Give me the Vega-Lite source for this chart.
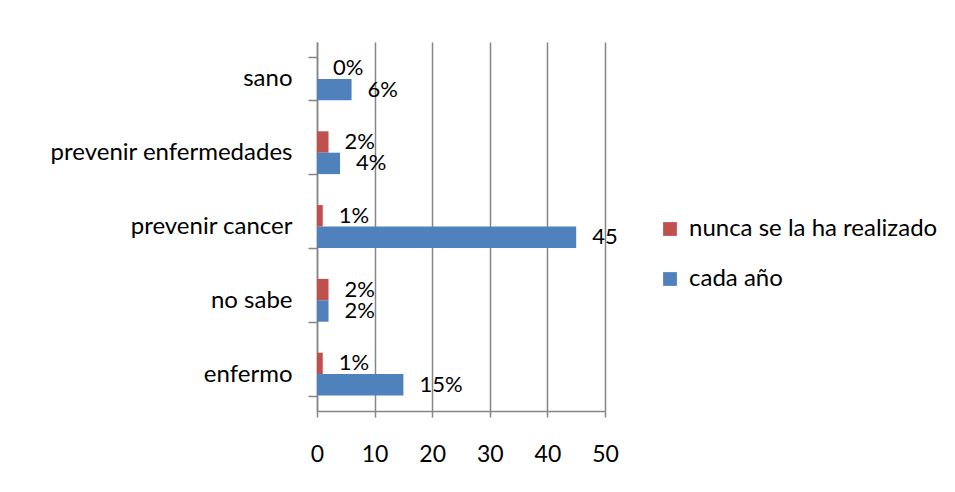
{
  "$schema": "https://vega.github.io/schema/vega-lite/v6.json",
  "width": 288,
  "height": 369,
  "autosize": {"type": "none"},
  "padding": {"left": 317, "top": 42, "right": 350, "bottom": 81},
  "background": "white",
  "config": {
    "font": "Lato",
    "view": {"stroke": null},
    "axis": {"labelFont": "Lato", "labelColor": "#000000", "labelFontSize": 23, "labelLimit": 0, "domainColor": "#868686", "tickColor": "#868686", "gridColor": "#868686", "domainWidth": 1.5, "tickWidth": 1.5, "gridWidth": 1.5},
    "legend": {"labelFont": "Lato", "labelFontSize": 24, "labelLimit": 0, "labelColor": "#000000"}
  },
  "data": {
    "values": [
      {"categoria": "sano", "serie": "nunca se la ha realizado", "valor": 0, "etiqueta": "0%"},
      {"categoria": "sano", "serie": "cada año", "valor": 6, "etiqueta": "6%"},
      {"categoria": "prevenir enfermedades", "serie": "nunca se la ha realizado", "valor": 2, "etiqueta": "2%"},
      {"categoria": "prevenir enfermedades", "serie": "cada año", "valor": 4, "etiqueta": "4%"},
      {"categoria": "prevenir cancer", "serie": "nunca se la ha realizado", "valor": 1, "etiqueta": "1%"},
      {"categoria": "prevenir cancer", "serie": "cada año", "valor": 45, "etiqueta": "45"},
      {"categoria": "no sabe", "serie": "nunca se la ha realizado", "valor": 2, "etiqueta": "2%"},
      {"categoria": "no sabe", "serie": "cada año", "valor": 2, "etiqueta": "2%"},
      {"categoria": "enfermo", "serie": "nunca se la ha realizado", "valor": 1, "etiqueta": "1%"},
      {"categoria": "enfermo", "serie": "cada año", "valor": 15, "etiqueta": "15%"}
    ]
  },
  "encoding": {
    "y": {
      "field": "categoria", "type": "nominal",
      "sort": ["sano", "prevenir enfermedades", "prevenir cancer", "no sabe", "enfermo"],
      "scale": {"paddingInner": 0.42, "paddingOuter": 0.21},
      "axis": {"title": null, "tickBand": "extent", "tickSize": 9, "labelPadding": 16, "labelFontSize": 24, "grid": false}
    },
    "yOffset": {"field": "serie", "type": "nominal", "sort": ["nunca se la ha realizado", "cada año"]}
  },
  "layer": [
    {
      "mark": {"type": "bar"},
      "encoding": {
        "x": {
          "field": "valor", "type": "quantitative",
          "scale": {"domain": [0, 50], "nice": false},
          "axis": {"title": null, "values": [0, 10, 20, 30, 40, 50], "tickSize": 6, "labelPadding": 26, "grid": true, "labelFlush": false}
        },
        "color": {
          "field": "serie", "type": "nominal",
          "sort": ["nunca se la ha realizado", "cada año"],
          "scale": {"domain": ["nunca se la ha realizado", "cada año"], "range": ["#C0504D", "#4F81BD"]},
          "legend": {"title": null, "orient": "none", "legendX": 341, "legendY": 175, "symbolType": "square", "symbolSize": 190, "symbolStrokeWidth": 0, "rowPadding": 26, "labelOffset": 7}
        }
      }
    },
    {
      "mark": {"type": "text", "align": "left", "baseline": "middle", "dx": 16, "fontSize": 22, "color": "#000000"},
      "encoding": {
        "x": {"field": "valor", "type": "quantitative"},
        "text": {"field": "etiqueta", "type": "nominal"}
      }
    }
  ]
}
